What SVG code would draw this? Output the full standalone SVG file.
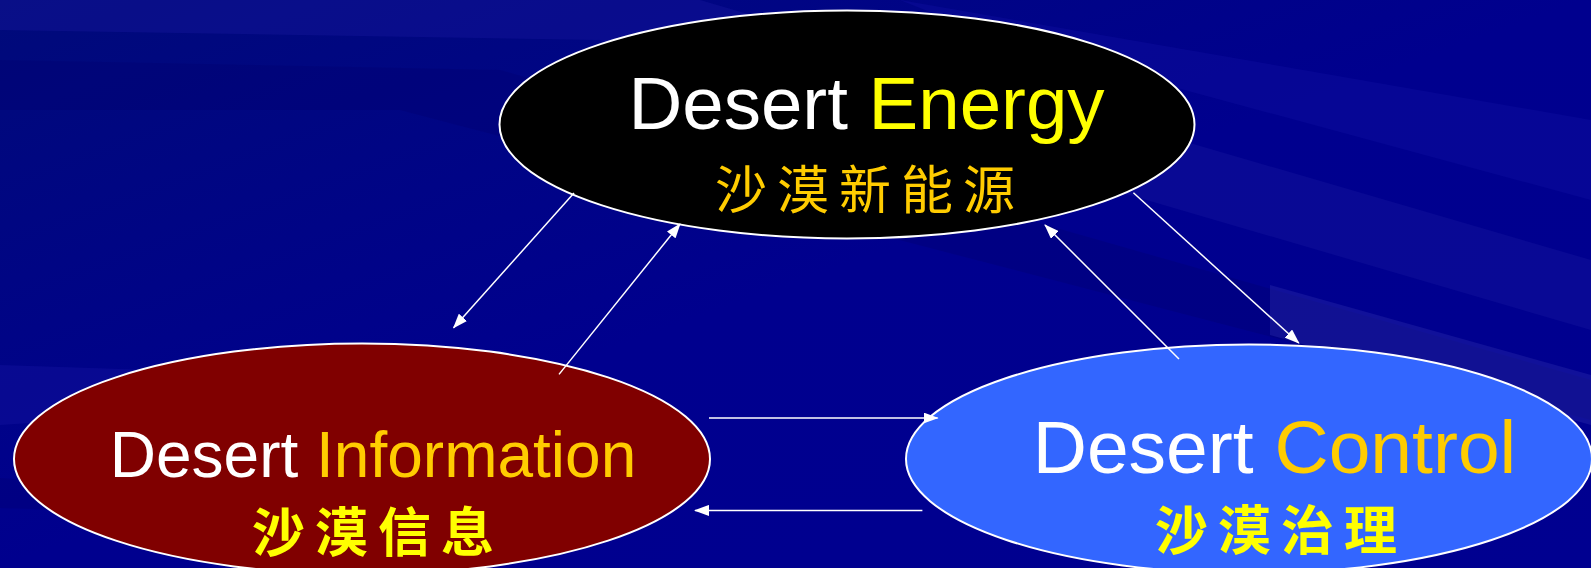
<svg xmlns="http://www.w3.org/2000/svg" width="1591" height="568" viewBox="0 0 1591 568">
<style>
.node{stroke:#ffffff;stroke-width:2}
.en{font-family:"Liberation Sans",Arial,sans-serif;text-anchor:middle}
.cn{font-family:"Noto Sans CJK SC","Noto Sans CJK TC",sans-serif;text-anchor:middle;font-weight:bold}
.cn.thin{font-weight:normal}
.w{fill:#ffffff}
.y{fill:#ffff00}
.g{fill:#ffcc00}
.conn line{stroke:#ffffff;stroke-width:1.5}
</style>
<defs>
<marker id="ah" markerWidth="15" markerHeight="11" refX="14" refY="5.5" orient="auto" markerUnits="userSpaceOnUse" viewBox="0 0 15 11">
<path d="M0,0 L15,5.5 L0,11 Z" fill="#ffffff"/>
</marker>
<linearGradient id="bg" x1="0" y1="0" x2="1" y2="1">
<stop offset="0" stop-color="#000a7a"/>
<stop offset="0.5" stop-color="#00008e"/>
<stop offset="1" stop-color="#000090"/>
</linearGradient>
</defs>
<rect width="1591" height="568" fill="url(#bg)"/>
<g id="streaks">
<polygon points="0,0 700,0 1591,260 1591,330 600,40 0,30" fill="#1a1aa0" opacity="0.35"/>
<polygon points="0,60 500,70 1591,380 1591,420 400,110 0,110" fill="#000070" opacity="0.35"/>
<polygon points="900,0 1591,120 1591,200 1000,40" fill="#1010a0" opacity="0.4"/>
<polygon points="1270,285 1591,375 1591,425 1270,335" fill="#3030b0" opacity="0.35"/>
<polygon points="0,365 610,385 0,425" fill="#1515a0" opacity="0.4"/>
<polygon points="0,478 660,528 0,508" fill="#000070" opacity="0.3"/>
</g>
<g id="node-energy">
<ellipse class="node" cx="847" cy="124.5" rx="347.5" ry="114" fill="#000000"/>
<text class="en" x="866.5" y="129" font-size="74.5"><tspan class="w">Desert </tspan><tspan class="y">Energy</tspan></text>
<text class="cn thin g" x="870" y="209" font-size="52" letter-spacing="10">沙漠新能源</text>
</g>
<g id="node-information">
<ellipse class="node" cx="362" cy="459" rx="348" ry="115.5" fill="#800000"/>
<text class="en" x="373" y="477" font-size="64"><tspan class="w">Desert </tspan><tspan class="g">Information</tspan></text>
<text class="cn y" x="378" y="552" font-size="53" letter-spacing="10">沙漠信息</text>
</g>
<g id="node-control">
<ellipse class="node" cx="1249" cy="459" rx="343" ry="114.5" fill="#3366ff"/>
<text class="en" x="1274.5" y="473" font-size="75"><tspan class="w">Desert </tspan><tspan class="g">Control</tspan></text>
<text class="cn y" x="1281" y="550" font-size="53" letter-spacing="10">沙漠治理</text>
</g>
<g id="connectors" class="conn">
<line x1="574" y1="193" x2="453.6" y2="327.8" marker-end="url(#ah)"/>
<line x1="559" y1="374.4" x2="680" y2="224" marker-end="url(#ah)"/>
<line x1="1133.4" y1="192.8" x2="1298.8" y2="343" marker-end="url(#ah)"/>
<line x1="1179" y1="359" x2="1045" y2="225" marker-end="url(#ah)"/>
<line x1="709" y1="418" x2="937.6" y2="418" marker-end="url(#ah)"/>
<line x1="922.4" y1="510.4" x2="695" y2="510.4" marker-end="url(#ah)"/>
</g>
</svg>
